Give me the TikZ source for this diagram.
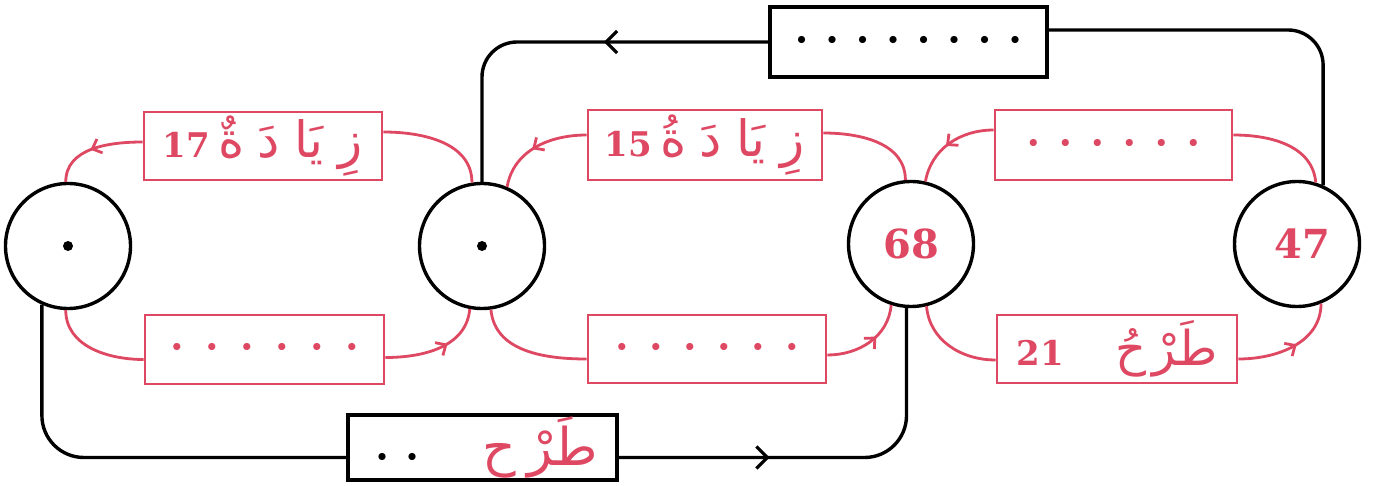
\documentclass[tikz,border=0pt]{standalone}
\usepackage{fontspec}
\newfontfamily\arabicfont[Script=Arabic]{DejaVu Sans}
\newfontfamily\numfont{DejaVu Serif}
\TeXXeTstate=1
\usetikzlibrary{arrows.meta,decorations.markings}
\definecolor{pr}{RGB}{222,72,98}
\newcommand\artxt[2][50]{{\arabicfont\fontsize{#1}{#1}\selectfont\beginR #2\endR}}
\newcommand\numtxt[2][34]{{\numfont\bfseries\fontsize{#1}{#1}\selectfont #2}}
\newcommand\dotrow[2]{{\fontsize{32}{32}\selectfont\foreach \k in {1,...,#1}{\makebox[#2]{\textbullet}}}}
\begin{document}
\begin{tikzpicture}[x=1pt,y=-1pt,
  circ/.style={draw=black,circle,line width=3.4pt,minimum size=125pt,inner sep=0pt,text=pr},
  rbox/.style={draw=pr,line width=2.8pt,inner sep=0pt,text=pr},
  kbox/.style={draw=black,line width=3.2pt,inner sep=0pt},
  rl/.style={draw=pr,line width=2.8pt},
  bl/.style={draw=black,line width=3.4pt},
  rarr/.style={postaction={decorate,decoration={markings,mark=at position #1 with {\arrow{Straight Barb[length=8pt,width=15pt,line width=2.8pt]}}}}},
  karr/.style={postaction={decorate,decoration={markings,mark=at position #1 with {\arrow{Straight Barb[length=11pt,width=22pt,line width=3.2pt]}}}}}
]
\useasboundingbox (0,0) rectangle (1375,486);
\fill[white] (0,0) rectangle (1375,486);

% circles
\node[circ] (c1) at (68,246) {};
\node[circ] (c2) at (482,246) {};
\node[circ] (c3) at (911,244) {\numtxt[40]{68}};
\node[circ] (c4) at (1297,244) {\hspace{10pt}\numtxt[40]{47}};
\fill (c1) circle (5pt);
\fill (c2) circle (5pt);

% red boxes
\node[rbox,minimum width=238pt,minimum height=68pt] (b1) at (263,146)
  {\numtxt{17}\hspace{8pt}\artxt{زِ\hspace{15pt}يَا\hspace{15pt}دَ\hspace{13pt}ةٌ}};
\node[rbox,minimum width=234pt,minimum height=70pt] (b2) at (705,145)
  {\numtxt{15}\hspace{8pt}\artxt{زِ\hspace{15pt}يَا\hspace{15pt}دَ\hspace{13pt}ةُ}};
\node[rbox,minimum width=237pt,minimum height=70pt] (b3) at (1113.5,145) {\dotrow{6}{32pt}};
\node[rbox,minimum width=239pt,minimum height=69pt] (b4) at (264.5,349.5) {\dotrow{6}{35pt}};
\node[rbox,minimum width=238pt,minimum height=68pt] (b5) at (707,349) {\dotrow{6}{34pt}};
\node[rbox,minimum width=240pt,minimum height=68pt] (b6) at (1117,349)
  {\numtxt{21}\hspace{52pt}\artxt[48]{طَرْ\hspace{6pt}حُ}};

% black boxes
\node[kbox,minimum width=277pt,minimum height=70pt] (t) at (908.5,42) {\dotrow{8}{30.5pt}};
\node[kbox,minimum width=269pt,minimum height=65pt] (bb) at (482.5,447.5)
  {\dotrow{2}{30pt}\hspace{55pt}{\color{pr}\artxt[52]{طَرْ\hspace{12pt}ح}}};

% red connectors, top row
\draw[rl,rarr=0.55] ([yshift=4pt]b1.west) to[out=180,in=90] (c1.92);
\draw[rl] (c2.99) to[out=90,in=0] ([yshift=14pt]b1.east);
\draw[rl,rarr=0.55] ([yshift=10pt]b2.west) to[out=180,in=80] (c2.67);
\draw[rl] (c3.95) to[out=90,in=0] ([yshift=12pt]b2.east);
\draw[rl,rarr=0.55] ([yshift=15pt]b3.west) to[out=180,in=80] (c3.77);
\draw[rl] (c4.73) to[out=95,in=0] ([yshift=10pt]b3.east);

% red connectors, bottom row
\draw[rl] (c1.268) to[out=270,in=180] ([yshift=-10pt]b4.west);
\draw[rl,rarr=0.6] ([yshift=-8pt]b4.east) to[out=0,in=265] (c2.259);
\draw[rl] (c2.278) to[out=275,in=180] ([yshift=-10pt]b5.west);
\draw[rl,rarr=0.6] ([yshift=-6pt]b5.east) to[out=0,in=265] (c3.252);
\draw[rl] (c3.284) to[out=275,in=180] ([yshift=-11pt]b6.west);
\draw[rl,rarr=0.55] ([yshift=-10pt]b6.east) to[out=0,in=270] (c4.292);

% black connectors
\draw[bl,rounded corners=35pt] (c4.66) |- ([yshift=12pt]t.east);
\draw[bl,rounded corners=35pt,karr=0.4] (t.west) -| (c2.north);
\draw[bl,rounded corners=42pt] (c1.246) |- ([yshift=-10pt]bb.west);
\draw[bl,rounded corners=42pt,karr=0.36] ([yshift=-10pt]bb.east) -| (c3.266);
\end{tikzpicture}
\end{document}
